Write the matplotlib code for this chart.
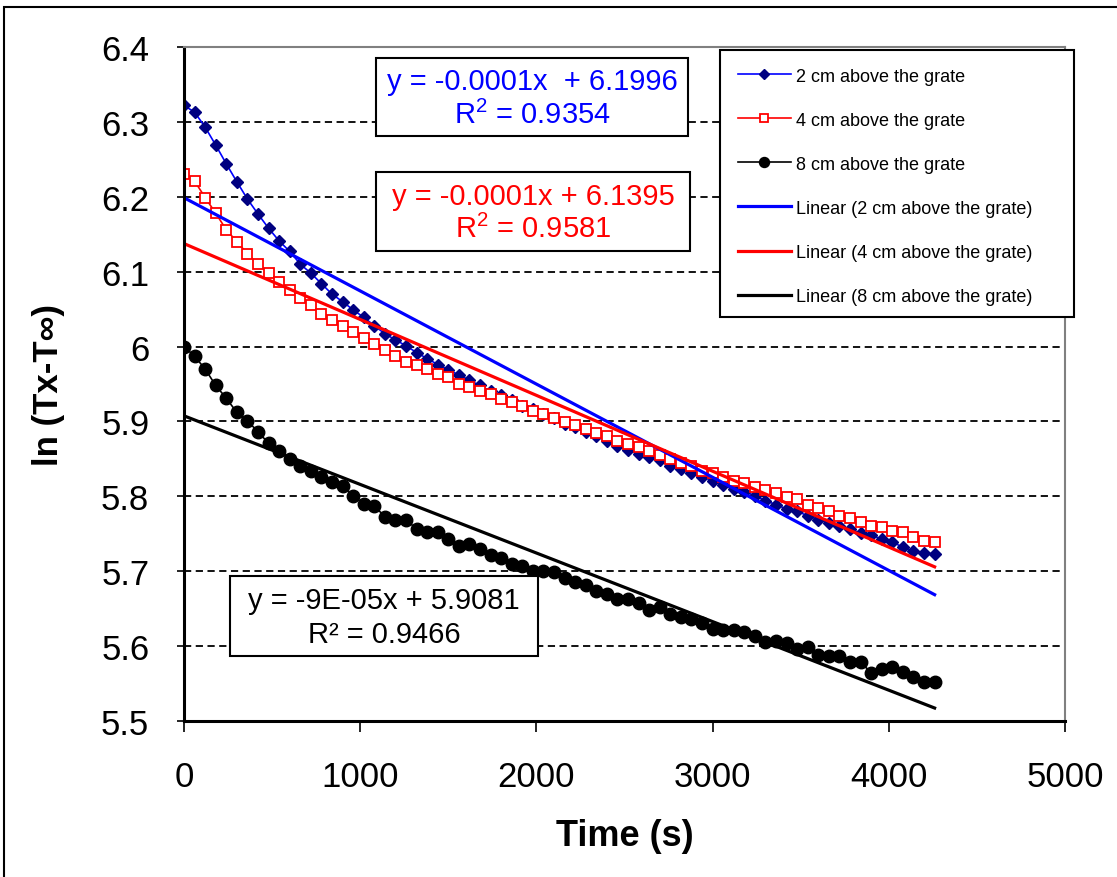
import numpy as np
import matplotlib
matplotlib.use("Agg")
import matplotlib.pyplot as plt
from matplotlib.patches import Rectangle

plt.rcParams['font.family'] = ['Liberation Sans', 'DejaVu Sans']
plt.rcParams['mathtext.fontset'] = 'custom'
plt.rcParams['mathtext.rm'] = 'Liberation Sans'

# time (s), one reading every 60 s
time_s = np.arange(72) * 60

# ln(Tx - Tinf)
cm2 = [6.322, 6.313, 6.293, 6.269, 6.244, 6.220, 6.197, 6.177, 6.158, 6.141,
       6.127, 6.110, 6.098, 6.084, 6.070, 6.060, 6.049, 6.039, 6.028, 6.017,
       6.009, 6.001, 5.992, 5.984, 5.976, 5.969, 5.962, 5.955, 5.948, 5.940,
       5.935, 5.928, 5.921, 5.917, 5.910, 5.904, 5.897, 5.892, 5.886, 5.880,
       5.874, 5.867, 5.862, 5.857, 5.852, 5.848, 5.841, 5.837, 5.831, 5.826,
       5.821, 5.815, 5.810, 5.806, 5.801, 5.794, 5.789, 5.783, 5.780, 5.774,
       5.769, 5.765, 5.760, 5.756, 5.751, 5.748, 5.743, 5.739, 5.732, 5.727,
       5.724, 5.723]
cm4 = [6.231, 6.221, 6.199, 6.178, 6.156, 6.140, 6.124, 6.110, 6.098, 6.086,
       6.076, 6.065, 6.055, 6.044, 6.035, 6.028, 6.019, 6.011, 6.003, 5.995,
       5.988, 5.979, 5.975, 5.970, 5.964, 5.959, 5.950, 5.946, 5.941, 5.937,
       5.930, 5.926, 5.921, 5.914, 5.910, 5.905, 5.899, 5.895, 5.890, 5.884,
       5.881, 5.874, 5.870, 5.866, 5.860, 5.855, 5.850, 5.845, 5.841, 5.834,
       5.831, 5.826, 5.820, 5.818, 5.812, 5.808, 5.804, 5.799, 5.796, 5.788,
       5.784, 5.780, 5.774, 5.771, 5.766, 5.761, 5.759, 5.754, 5.752, 5.746,
       5.740, 5.739]
cm8 = [6.000, 5.987, 5.970, 5.948, 5.931, 5.912, 5.901, 5.886, 5.871, 5.861,
       5.850, 5.841, 5.834, 5.826, 5.819, 5.814, 5.801, 5.790, 5.787, 5.773,
       5.769, 5.768, 5.757, 5.752, 5.752, 5.743, 5.734, 5.736, 5.730, 5.722,
       5.717, 5.710, 5.707, 5.700, 5.700, 5.699, 5.691, 5.685, 5.682, 5.674,
       5.670, 5.663, 5.663, 5.657, 5.648, 5.652, 5.643, 5.639, 5.636, 5.631,
       5.623, 5.621, 5.621, 5.619, 5.614, 5.605, 5.607, 5.604, 5.596, 5.599,
       5.588, 5.587, 5.587, 5.579, 5.579, 5.564, 5.569, 5.572, 5.565, 5.559,
       5.552, 5.552]

labels = ['2 cm above the grate', '4 cm above the grate', '8 cm above the grate']
eq_text = ['y = -0.0001x  + 6.1996', 'y = -0.0001x + 6.1395', 'y = -9E-05x + 5.9081']
r2_text = [r'R$^\mathregular{2}$ = 0.9354', r'R$^\mathregular{2}$ = 0.9581', 'R² = 0.9466']

W, H = 1117, 878
fig = plt.figure(figsize=(W / 100, H / 100), dpi=100)
ax = fig.add_axes([184 / W, 1 - 722 / H, (1065 - 184) / W, (722 - 48) / H])

ax.plot(time_s, cm2, color='#0000FF', lw=1.2, marker='D', ms=6.5,
        mfc='#000080', mec='#000080', label=labels[0])
ax.plot(time_s, cm4, color='#FF0000', lw=1.2, marker='s', ms=7.5,
        mfc='white', mec='#FF0000', mew=1.3, label=labels[1])
ax.plot(time_s, cm8, color='black', lw=1.2, marker='o', ms=9,
        mfc='black', mec='black', label=labels[2])

# linear trend lines
trend_cols = ['#0000FF', '#FF0000', 'black']
for y, c, lab in zip([cm2, cm4, cm8], trend_cols, labels):
    k, b = np.polyfit(time_s, y, 1)
    ends = np.array([time_s[0], time_s[-1]])
    ax.plot(ends, k * ends + b, color=c, lw=2.3, label='Linear (' + lab + ')')

ax.set_xlim(0, 5000)
ax.set_ylim(5.5, 6.4)
ax.set_xticks(np.arange(0, 5001, 1000))
yt = np.round(np.arange(5.5, 6.41, 0.1), 1)
ax.set_yticks(yt)
ax.set_yticklabels(['{:g}'.format(v) for v in yt])
ax.tick_params(axis='x', direction='out', length=8, width=1.2, labelsize=25, pad=20)
ax.tick_params(axis='y', direction='out', length=5, width=1.2, labelsize=25, pad=20)

ax.set_axisbelow(True)
ax.yaxis.grid(True, color='black', ls=(0, (4, 2.5)), lw=1.3)
for s in ['left', 'bottom']:
    ax.spines[s].set_linewidth(2.2)
    ax.spines[s].set_color('black')
for s in ['top', 'right']:
    ax.spines[s].set_linewidth(1.5)
    ax.spines[s].set_color('#808080')

ax.set_xlabel('Time (s)', fontsize=26, fontweight='bold', labelpad=18)
ax.set_ylabel('ln (Tx-T∞)', fontsize=25, fontweight='bold', labelpad=26)

# legend frame drawn separately so it can be wider than its content
fig.add_artist(Rectangle((720 / W, 1 - 318 / H), (1074 - 720) / W, (318 - 51) / H,
                         transform=fig.transFigure, fc='white', ec='black',
                         lw=1.5, zorder=4))
leg = ax.legend(loc='upper left', bbox_to_anchor=(737.5 / W, 1 - 68.5 / H),
                bbox_transform=fig.transFigure, fontsize=13.0, frameon=False,
                handlelength=2.95, labelspacing=1.5, borderpad=0,
                handletextpad=0.28, borderaxespad=0, markerscale=0.8)
leg.set_zorder(5)
fig.legends.append(ax.legend_)
ax.legend_ = None

# equation boxes (pixel boxes: left, top, right, bottom)
boxes = [(376, 59, 688, 137), (376, 173, 690, 252), (230, 577, 538, 657)]
for (l, t, r, b), c, e, r2 in zip(boxes, trend_cols, eq_text, r2_text):
    fig.add_artist(Rectangle((l / W, 1 - b / H), (r - l) / W, (b - t) / H,
                             transform=fig.transFigure, fill=True, fc='white',
                             ec='black', lw=1.5))
    cx = (l + r) / 2 / W
    fig.text(cx, 1 - (t + (b - t) * 0.30) / H, e, color=c, fontsize=21,
             ha='center', va='center')
    fig.text(cx, 1 - (t + (b - t) * 0.72) / H, r2, color=c, fontsize=21,
             ha='center', va='center')

# outer chart frame
fig.add_artist(Rectangle((4 / W, -0.05), 1.2, 1.05 - 8 / H, transform=fig.transFigure,
                         fill=False, ec='black', lw=1.5))

fig.savefig('out.png', dpi=100)
